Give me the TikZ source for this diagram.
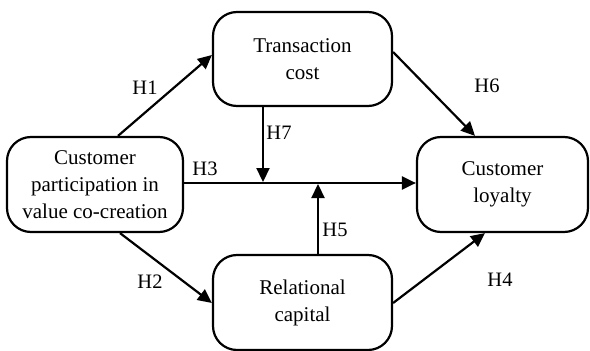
\documentclass[tikz,border=0pt]{standalone}
\usepackage{fontspec}
\setmainfont{Liberation Serif}
\usetikzlibrary{arrows.meta}
\begin{document}
\begin{tikzpicture}[x=1pt,y=-1pt,
  box/.style={draw, line width=2.2pt, rounded corners=24pt, align=center,
    font=\fontsize{21}{27}\selectfont, inner sep=0pt},
  arr/.style={line width=2.2pt, -{Triangle[length=14pt,width=13pt]}},
  lab/.style={font=\fontsize{20.5}{22}\selectfont, inner sep=0pt}]
\useasboundingbox (0,0) rectangle (590,351);
\node[box, minimum width=179pt, minimum height=94pt] (tc) at (302.5,59) {Transaction\\cost};
\node[box, minimum width=176pt, minimum height=95pt] (cp) at (95,184.5) {Customer\\participation in\\value co-creation};
\node[box, minimum width=179pt, minimum height=95pt] (rc) at (302.5,302.5) {Relational\\capital};
\node[box, minimum width=171pt, minimum height=95pt] (cl) at (502.5,184.5) {Customer\\loyalty};
\coordinate (m7) at (263,182);
\coordinate (m5) at (318,184);
\draw[arr] (cp.north -| 118,0) -- (tc.west |- 0,55);
\draw[arr] (tc.east |- 0,52) -- (cl.north -| 475,0);
\draw[arr] (cp.south -| 120,0) -- (rc.west |- 0,303);
\draw[arr] (rc.east |- 0,303) -- (cl.south -| 485,0);
\draw[arr] (cp.east |- 0,183) -- (cl.west |- 0,183);
\draw[arr] (tc.south -| m7) -- (m7);
\draw[arr] (rc.north -| m5) -- (m5);
\node[lab] (h1) at (145,88) {H1};
\node[lab] (h7) at (279,133) {H7};
\node[lab] (h3) at (205,169) {H3};
\node[lab] (h6) at (487,86) {H6};
\node[lab] (h2) at (150,282) {H2};
\node[lab] (h5) at (335,230) {H5};
\node[lab] (h4) at (500,280) {H4};
\end{tikzpicture}
\end{document}
